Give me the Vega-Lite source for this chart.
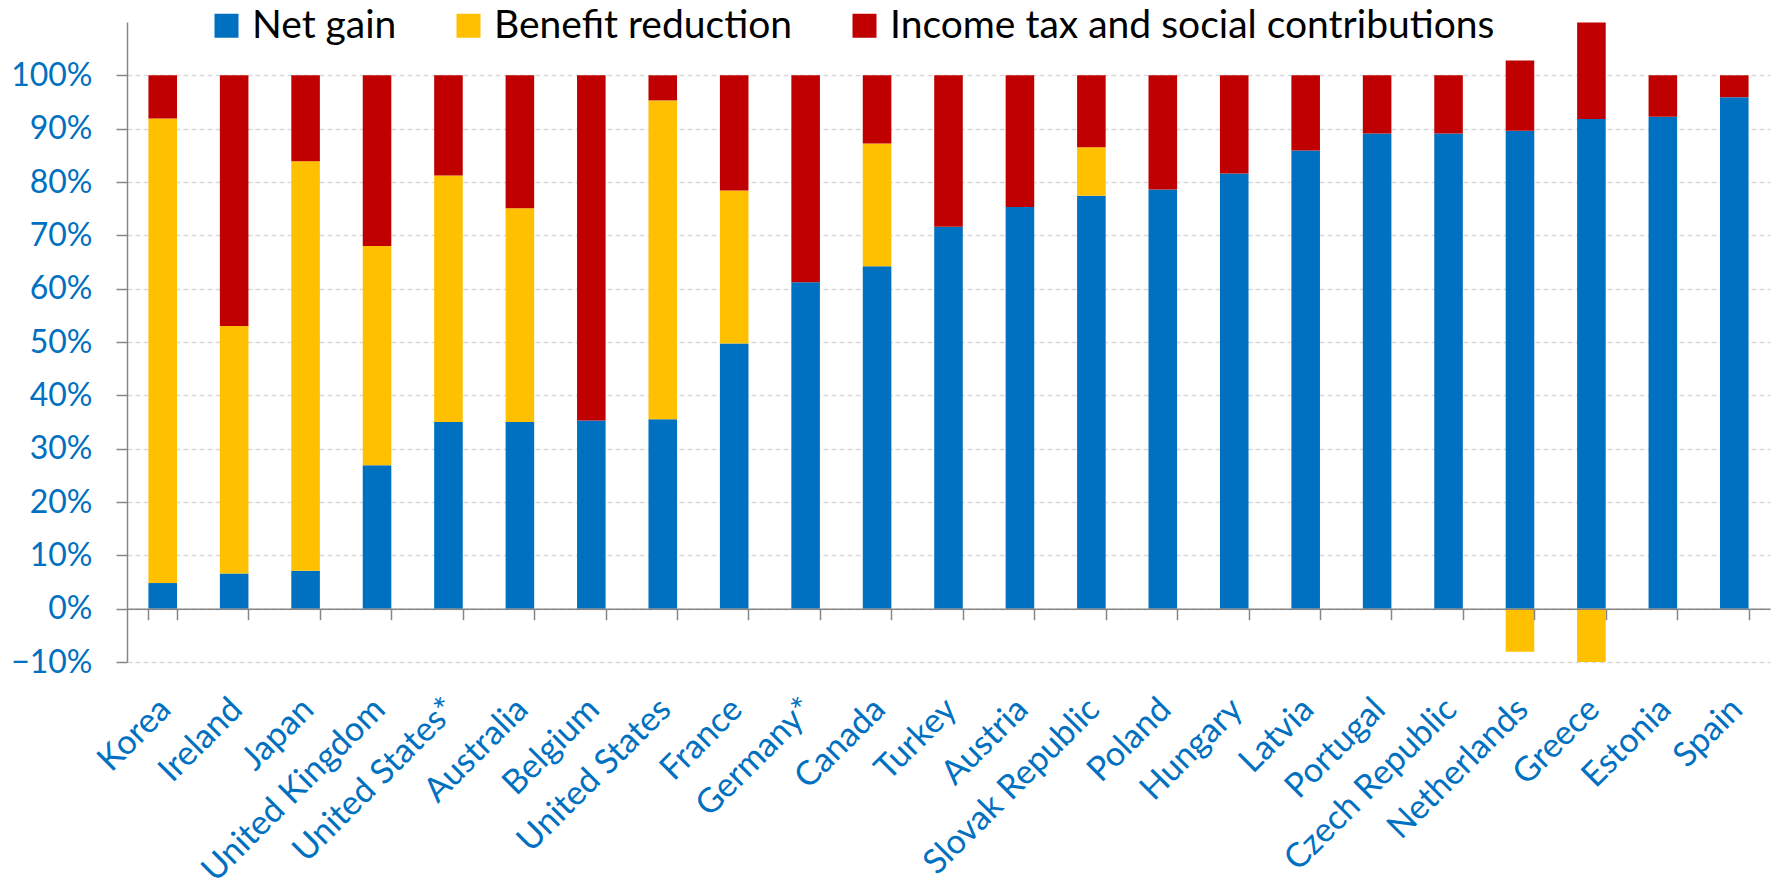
{
  "$schema": "https://vega.github.io/schema/vega-lite/v6.json",
  "autosize": {"type": "none"},
  "padding": {"left": 127, "top": 22, "right": 7, "bottom": 216},
  "width": 1643,
  "height": 640,
  "background": "white",
  "config": {
    "view": {"stroke": null},
    "font": "Lato",
    "axis": {"labelFont": "Lato"},
    "legend": {"labelFont": "Lato"}
  },
  "data": {
    "values": [
      {"country": "Korea", "component": "Net gain", "ord": 1, "value": 0.048},
      {"country": "Korea", "component": "Benefit reduction", "ord": 2, "value": 0.871},
      {"country": "Korea", "component": "Income tax and social contributions", "ord": 3, "value": 0.081},
      {"country": "Ireland", "component": "Net gain", "ord": 1, "value": 0.066},
      {"country": "Ireland", "component": "Benefit reduction", "ord": 2, "value": 0.464},
      {"country": "Ireland", "component": "Income tax and social contributions", "ord": 3, "value": 0.470},
      {"country": "Japan", "component": "Net gain", "ord": 1, "value": 0.071},
      {"country": "Japan", "component": "Benefit reduction", "ord": 2, "value": 0.768},
      {"country": "Japan", "component": "Income tax and social contributions", "ord": 3, "value": 0.161},
      {"country": "United Kingdom", "component": "Net gain", "ord": 1, "value": 0.269},
      {"country": "United Kingdom", "component": "Benefit reduction", "ord": 2, "value": 0.411},
      {"country": "United Kingdom", "component": "Income tax and social contributions", "ord": 3, "value": 0.320},
      {"country": "United States*", "component": "Net gain", "ord": 1, "value": 0.350},
      {"country": "United States*", "component": "Benefit reduction", "ord": 2, "value": 0.462},
      {"country": "United States*", "component": "Income tax and social contributions", "ord": 3, "value": 0.188},
      {"country": "Australia", "component": "Net gain", "ord": 1, "value": 0.350},
      {"country": "Australia", "component": "Benefit reduction", "ord": 2, "value": 0.401},
      {"country": "Australia", "component": "Income tax and social contributions", "ord": 3, "value": 0.249},
      {"country": "Belgium", "component": "Net gain", "ord": 1, "value": 0.353},
      {"country": "Belgium", "component": "Benefit reduction", "ord": 2, "value": 0.0},
      {"country": "Belgium", "component": "Income tax and social contributions", "ord": 3, "value": 0.647},
      {"country": "United States", "component": "Net gain", "ord": 1, "value": 0.355},
      {"country": "United States", "component": "Benefit reduction", "ord": 2, "value": 0.598},
      {"country": "United States", "component": "Income tax and social contributions", "ord": 3, "value": 0.047},
      {"country": "France", "component": "Net gain", "ord": 1, "value": 0.497},
      {"country": "France", "component": "Benefit reduction", "ord": 2, "value": 0.287},
      {"country": "France", "component": "Income tax and social contributions", "ord": 3, "value": 0.216},
      {"country": "Germany*", "component": "Net gain", "ord": 1, "value": 0.612},
      {"country": "Germany*", "component": "Benefit reduction", "ord": 2, "value": 0.0},
      {"country": "Germany*", "component": "Income tax and social contributions", "ord": 3, "value": 0.388},
      {"country": "Canada", "component": "Net gain", "ord": 1, "value": 0.642},
      {"country": "Canada", "component": "Benefit reduction", "ord": 2, "value": 0.230},
      {"country": "Canada", "component": "Income tax and social contributions", "ord": 3, "value": 0.128},
      {"country": "Turkey", "component": "Net gain", "ord": 1, "value": 0.716},
      {"country": "Turkey", "component": "Benefit reduction", "ord": 2, "value": 0.0},
      {"country": "Turkey", "component": "Income tax and social contributions", "ord": 3, "value": 0.284},
      {"country": "Austria", "component": "Net gain", "ord": 1, "value": 0.753},
      {"country": "Austria", "component": "Benefit reduction", "ord": 2, "value": 0.0},
      {"country": "Austria", "component": "Income tax and social contributions", "ord": 3, "value": 0.247},
      {"country": "Slovak Republic", "component": "Net gain", "ord": 1, "value": 0.774},
      {"country": "Slovak Republic", "component": "Benefit reduction", "ord": 2, "value": 0.091},
      {"country": "Slovak Republic", "component": "Income tax and social contributions", "ord": 3, "value": 0.135},
      {"country": "Poland", "component": "Net gain", "ord": 1, "value": 0.786},
      {"country": "Poland", "component": "Benefit reduction", "ord": 2, "value": 0.0},
      {"country": "Poland", "component": "Income tax and social contributions", "ord": 3, "value": 0.214},
      {"country": "Hungary", "component": "Net gain", "ord": 1, "value": 0.816},
      {"country": "Hungary", "component": "Benefit reduction", "ord": 2, "value": 0.0},
      {"country": "Hungary", "component": "Income tax and social contributions", "ord": 3, "value": 0.184},
      {"country": "Latvia", "component": "Net gain", "ord": 1, "value": 0.859},
      {"country": "Latvia", "component": "Benefit reduction", "ord": 2, "value": 0.0},
      {"country": "Latvia", "component": "Income tax and social contributions", "ord": 3, "value": 0.141},
      {"country": "Portugal", "component": "Net gain", "ord": 1, "value": 0.891},
      {"country": "Portugal", "component": "Benefit reduction", "ord": 2, "value": 0.0},
      {"country": "Portugal", "component": "Income tax and social contributions", "ord": 3, "value": 0.109},
      {"country": "Czech Republic", "component": "Net gain", "ord": 1, "value": 0.891},
      {"country": "Czech Republic", "component": "Benefit reduction", "ord": 2, "value": 0.0},
      {"country": "Czech Republic", "component": "Income tax and social contributions", "ord": 3, "value": 0.109},
      {"country": "Netherlands", "component": "Net gain", "ord": 1, "value": 0.896},
      {"country": "Netherlands", "component": "Benefit reduction", "ord": 2, "value": -0.081},
      {"country": "Netherlands", "component": "Income tax and social contributions", "ord": 3, "value": 0.132},
      {"country": "Greece", "component": "Net gain", "ord": 1, "value": 0.918},
      {"country": "Greece", "component": "Benefit reduction", "ord": 2, "value": -0.100},
      {"country": "Greece", "component": "Income tax and social contributions", "ord": 3, "value": 0.181},
      {"country": "Estonia", "component": "Net gain", "ord": 1, "value": 0.9225},
      {"country": "Estonia", "component": "Benefit reduction", "ord": 2, "value": 0.0},
      {"country": "Estonia", "component": "Income tax and social contributions", "ord": 3, "value": 0.0775},
      {"country": "Spain", "component": "Net gain", "ord": 1, "value": 0.959},
      {"country": "Spain", "component": "Benefit reduction", "ord": 2, "value": 0.0},
      {"country": "Spain", "component": "Income tax and social contributions", "ord": 3, "value": 0.041}
    ]
  },
  "resolve": {"axis": {"x": "independent"}},
  "layer": [
    {
      "mark": {"type": "bar"},
      "encoding": {
        "x": {
          "field": "country", "type": "nominal", "sort": null,
          "scale": {"paddingInner": 0.6, "paddingOuter": 0.3},
          "axis": {
            "orient": "bottom", "title": null, "labels": false,
            "domain": true, "domainColor": "#868686", "domainWidth": 1.5,
            "ticks": true, "tickBand": "extent", "tickColor": "#868686", "tickWidth": 1.5, "tickSize": 11,
            "offset": -53.3, "grid": false, "zindex": 2
          }
        },
        "y": {
          "field": "value", "type": "quantitative", "stack": "zero",
          "scale": {"domain": [-0.1, 1.1], "nice": false, "zero": false},
          "axis": {
            "title": null, "format": ".0%",
            "values": [-0.1, 0, 0.1, 0.2, 0.3, 0.4, 0.5, 0.6, 0.7, 0.8, 0.9, 1.0],
            "labelFontSize": 32, "labelColor": "#0070C0", "labelPadding": 24,
            "domainColor": "#868686", "domainWidth": 1.5,
            "tickColor": "#868686", "tickWidth": 1.5, "tickSize": 11,
            "grid": true, "gridColor": "#d9d9d9", "gridDash": [5, 3], "gridWidth": 1.5,
            "zindex": 0
          }
        },
        "color": {
          "field": "component", "type": "nominal",
          "scale": {
            "domain": ["Net gain", "Benefit reduction", "Income tax and social contributions"],
            "range": ["#0070C0", "#FFC000", "#C00000"]
          },
          "legend": {
            "title": null, "orient": "none", "direction": "horizontal",
            "legendX": 80, "legendY": -16, "padding": 0, "offset": 0,
            "symbolType": "square", "symbolSize": 576, "symbolStrokeWidth": 0, "symbolOpacity": 1,
            "labelFontSize": 39, "labelColor": "#000000", "labelOffset": 6, "columnPadding": 52,
            "labelLimit": 0
          }
        },
        "order": {"field": "ord", "type": "quantitative"}
      }
    },
    {
      "mark": {"type": "text", "text": ""},
      "encoding": {
        "x": {
          "field": "country", "type": "nominal", "sort": null,
          "axis": {
            "orient": "bottom", "title": null, "domain": false, "ticks": false, "tickSize": 0, "grid": false,
            "labelAngle": -45, "labelAlign": "right", "labelBaseline": "middle",
            "labelFontSize": 34, "labelColor": "#0070C0", "labelPadding": 42, "labelOffset": 3,
            "labelLimit": 0, "labelOverlap": false
          }
        }
      }
    }
  ]
}
